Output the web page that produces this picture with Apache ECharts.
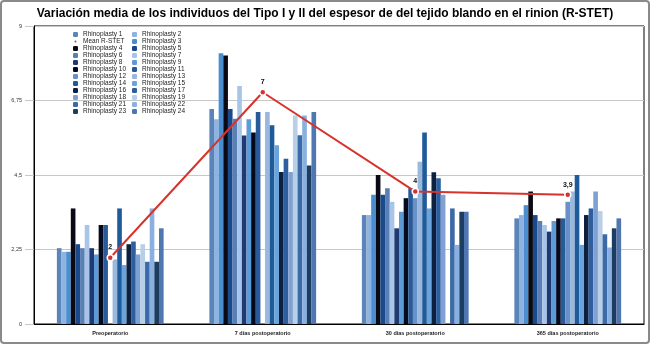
<!DOCTYPE html>
<html>
<head>
<meta charset="utf-8">
<script src="https://cdn.jsdelivr.net/npm/echarts@6/dist/echarts.min.js"></script>
<style>
  html, body { margin: 0; padding: 0; background: #fff; }
  #chart { width: 650px; height: 344px; }
</style>
</head>
<body>
<div id="chart"></div>
<script>
// categorias
const categories = ['Preoperatorio', '7 días postoperatorio', '30 días postoperatorio', '365 días postoperatorio'];
const yTicks = [0, 2.25, 4.5, 6.75, 9];

// nombres de las series (no hay Rhinoplasty 20)
const names = ['Rhinoplasty 1', 'Rhinoplasty 2', 'Rhinoplasty 3', 'Rhinoplasty 4', 'Rhinoplasty 5', 'Rhinoplasty 6',
  'Rhinoplasty 7', 'Rhinoplasty 8', 'Rhinoplasty 9', 'Rhinoplasty 10', 'Rhinoplasty 11', 'Rhinoplasty 12',
  'Rhinoplasty 13', 'Rhinoplasty 14', 'Rhinoplasty 15', 'Rhinoplasty 16', 'Rhinoplasty 17', 'Rhinoplasty 18',
  'Rhinoplasty 19', 'Rhinoplasty 21', 'Rhinoplasty 22', 'Rhinoplasty 23', 'Rhinoplasty 24'];

// valores por momento, un valor por rinoplastia (orden de names)
const pre  = [2.29, 2.18, 2.18, 3.49, 2.41, 2.29, 2.99, 2.29, 2.1, 2.99, 2.99, null, 1.95, 3.49, 1.78, 2.41, 2.49, 2.1, 2.41, 1.88, 3.49, 1.88, 2.89];
const d7   = [6.49, 6.18, 8.18, 8.11, 6.49, 6.2, 7.19, 5.69, 6.18, 5.78, 6.4, null, 6.4, 6.0, 5.4, 4.59, 4.99, 4.59, 6.3, 5.7, 6.3, 4.79, 6.4];
const d30  = [3.29, 3.29, 3.9, 4.5, 3.9, 4.1, 3.69, 2.89, 3.39, 3.8, 4.1, 3.8, 4.9, 5.78, 3.49, 4.58, 4.4, 3.9, null, 3.49, 2.39, 3.39, 3.39];
const d365 = [3.19, 3.29, 3.59, 4.0, 3.29, 3.11, 2.99, 2.79, 3.11, 3.19, 3.19, 3.69, 4.0, 4.5, 2.39, 3.29, 3.49, 4.0, 3.41, 2.71, 2.31, 2.89, 3.19];
const mean = [2, 7, 4, 3.9];

const colors = ['#5b84b8', '#8fb3e0', '#4a8ed0', '#0a0a14', '#1a4a8c', '#5a7fb5', '#a8c4e8', '#1f3a73', '#5c9ad8',
  '#050a1e', '#285a9a', '#6a90c8', '#9ab8dc', '#1f5a9a', '#6aa4dc', '#0d2040', '#2d5ea0', '#7fa0d0', '#b8cfe8',
  '#3c6aa8', '#88b0e0', '#1c3d60', '#4f76b0'];

const comma = v => String(v).replace('.', ',');

let series = names.map((n, i) => ({
  name: n,
  type: 'bar',
  barGap: '0%',
  barCategoryGap: '30%',
  itemStyle: { color: colors[i] },
  data: [pre[i], d7[i], d30[i], d365[i]]
}));
series.push({
  name: 'Mean R-STET',
  type: 'line',
  z: 10,
  data: mean,
  symbol: 'circle',
  symbolSize: 6,
  lineStyle: { color: '#d8322c', width: 2 },
  itemStyle: { color: '#d8322c', borderColor: '#fff', borderWidth: 1.5 },
  label: {
    show: true, position: 'top', distance: 3,
    fontSize: 7, fontWeight: 'bold', color: '#111',
    formatter: p => comma(p.value)
  }
});

const leftCol = ['Rhinoplasty 1', 'Mean R-STET', 'Rhinoplasty 4', 'Rhinoplasty 6', 'Rhinoplasty 8', 'Rhinoplasty 10',
  'Rhinoplasty 12', 'Rhinoplasty 14', 'Rhinoplasty 16', 'Rhinoplasty 18', 'Rhinoplasty 21', 'Rhinoplasty 23'];
const rightCol = ['Rhinoplasty 2', 'Rhinoplasty 3', 'Rhinoplasty 5', 'Rhinoplasty 7', 'Rhinoplasty 9', 'Rhinoplasty 11',
  'Rhinoplasty 13', 'Rhinoplasty 15', 'Rhinoplasty 17', 'Rhinoplasty 19', 'Rhinoplasty 22', 'Rhinoplasty 24'];

const legendBase = {
  orient: 'vertical',
  top: 31,
  itemWidth: 5,
  itemHeight: 5,
  itemGap: 0,
  padding: 0,
  selectedMode: false,
  textStyle: { fontSize: 6.5, lineHeight: 6.8, color: '#222', fontFamily: 'Liberation Sans' }
};

let myChart = echarts.init(document.getElementById('chart'));
myChart.setOption({
  animation: false,
  textStyle: { fontFamily: 'Liberation Sans' },
  title: {
    text: 'Variación media de los individuos del Tipo I y II del espesor de del tejido blando en el rinion (R-STET)',
    left: 'center',
    top: 3,
    textStyle: { fontSize: 12, fontWeight: 'bold', color: '#000', fontFamily: 'Liberation Sans' }
  },
  legend: [
    Object.assign({}, legendBase, { left: 72, data: leftCol }),
    Object.assign({}, legendBase, { left: 132, data: rightCol })
  ],
  grid: {
    left: 34, right: 6, top: 26, bottom: 20,
    outerBoundsMode: 'none',
    containLabel: false,
    show: true, borderColor: '#000', borderWidth: 1
  },
  xAxis: {
    type: 'category',
    data: categories,
    axisLine: { lineStyle: { color: '#000', width: 1 } },
    axisTick: { show: false },
    axisLabel: { fontSize: 5.5, fontWeight: 'bold', color: '#222', margin: 6, interval: 0 }
  },
  yAxis: {
    type: 'value',
    min: 0, max: 9, interval: 2.25,
    name: 'Skin thickness (mm)',
    nameLocation: 'middle',
    nameGap: 22,
    nameTextStyle: { fontSize: 5.5, color: '#222' },
    axisLine: { show: true, lineStyle: { color: '#000' } },
    axisTick: { show: true, length: 9, lineStyle: { color: '#c8c8c8' } },
    axisLabel: { fontSize: 5.5, color: '#333', margin: 12, formatter: v => yTicks.includes(v) ? comma(v) : '' },
    splitLine: { lineStyle: { color: '#c8c8c8' } }
  },
  graphic: [{
    type: 'rect',
    shape: { x: 1, y: 1, width: 648, height: 342, r: 3 },
    style: { fill: 'none', stroke: '#8a8a8a', lineWidth: 2 },
    silent: true
  }],
  series: series
});
</script>
</body>
</html>
